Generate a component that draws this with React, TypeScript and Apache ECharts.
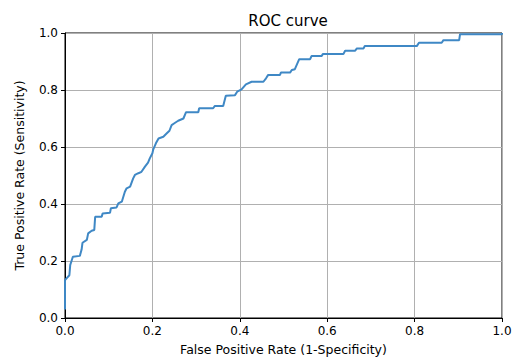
import React, { useEffect, useRef } from "react";
import * as echarts from "echarts";

const titleText = "ROC curve";
const xAxisName = "False Positive Rate (1-Specificity)";
const yAxisName = "True Positive Rate (Sensitivity)";

// False positive rate values (x)
const fpr: number[] = [
  0, 0, 0.004, 0.01, 0.012, 0.018, 0.034, 0.038, 0.04, 0.05, 0.053, 0.061, 0.067, 0.069,
  0.084, 0.086, 0.103, 0.105, 0.118, 0.122, 0.13, 0.137, 0.141, 0.149, 0.156, 0.16, 0.168,
  0.175, 0.183, 0.19, 0.194, 0.2, 0.202, 0.208, 0.214, 0.225, 0.233, 0.239, 0.244, 0.252,
  0.259, 0.271, 0.277, 0.305, 0.307, 0.339, 0.343, 0.362, 0.368, 0.389, 0.394, 0.404,
  0.414, 0.427, 0.454, 0.46, 0.465, 0.492, 0.494, 0.515, 0.519, 0.526, 0.532, 0.536,
  0.561, 0.564, 0.587, 0.59, 0.637, 0.641, 0.664, 0.668, 0.683, 0.686, 0.805, 0.81,
  0.862, 0.866, 0.902, 0.904, 1.0, 1.0,
];

// True positive rate values (y)
const tpr: number[] = [
  0.03, 0.133, 0.14, 0.15, 0.186, 0.215, 0.218, 0.24, 0.264, 0.274, 0.297, 0.306, 0.309, 0.355,
  0.355, 0.367, 0.369, 0.385, 0.388, 0.402, 0.408, 0.443, 0.455, 0.461, 0.49, 0.502, 0.508,
  0.513, 0.531, 0.545, 0.56, 0.578, 0.592, 0.613, 0.63, 0.636, 0.648, 0.657, 0.677, 0.685,
  0.692, 0.7, 0.722, 0.722, 0.736, 0.736, 0.744, 0.744, 0.78, 0.782, 0.794, 0.802,
  0.82, 0.829, 0.829, 0.841, 0.853, 0.853, 0.861, 0.861, 0.87, 0.873, 0.894, 0.908,
  0.908, 0.919, 0.919, 0.926, 0.926, 0.938, 0.938, 0.946, 0.946, 0.954, 0.954, 0.966,
  0.966, 0.975, 0.975, 0.996, 0.996, 1.0,
];

const tickValues: number[] = [0, 0.2, 0.4, 0.6, 0.8, 1.0];

const FONT = "DejaVu Sans";

export default function App() {
  const ref = useRef<HTMLDivElement>(null);

  useEffect(() => {
    if (!ref.current) return;
    const chart = echarts.init(ref.current, undefined, { renderer: "svg" });
    const data = fpr.map((x, i) => [x, tpr[i]]);
    const axisCommon = {
      type: "value" as const,
      min: tickValues[0],
      max: tickValues[tickValues.length - 1],
      interval: 0.2,
      nameLocation: "middle" as const,
      nameTextStyle: { fontFamily: FONT, fontSize: 12.5, color: "#000" },
      axisLine: { show: true, lineStyle: { color: "#000", width: 1 } },
      axisTick: { show: true, inside: false, length: 4, lineStyle: { color: "#000" } },
      axisLabel: {
        fontFamily: FONT,
        fontSize: 12,
        color: "#000",
        formatter: (v: number) => v.toFixed(1),
      },
      splitLine: { show: true, lineStyle: { color: "#b0b0b0", width: 1 } },
    };
    chart.setOption({
      animation: false,
      backgroundColor: "#fff",
      title: {
        text: titleText,
        left: 283,
        textAlign: "center",
        top: 8,
        textStyle: { fontFamily: FONT, fontSize: 15, fontWeight: "normal", color: "#000" },
      },
      grid: {
        left: 65,
        right: 14,
        top: 33,
        bottom: 40,
        containLabel: false,
        outerBoundsMode: "none",
        show: true,
        borderColor: "#000",
        borderWidth: 1,
        backgroundColor: "transparent",
      },
      xAxis: {
        ...axisCommon,
        name: xAxisName,
        nameGap: 25,
        axisLabel: { ...axisCommon.axisLabel, margin: 7 },
      },
      yAxis: {
        ...axisCommon,
        name: yAxisName,
        nameGap: 39,
        axisLabel: { ...axisCommon.axisLabel, margin: 7 },
      },
      series: [
        {
          type: "line",
          data,
          showSymbol: false,
          symbol: "none",
          lineStyle: { color: "#3f88c5", width: 2 },
          clip: true,
        },
      ],
    });
    return () => chart.dispose();
  }, []);

  return (
    <div
      ref={ref}
      style={{ position: "fixed", left: 0, top: 0, width: 516, height: 358, background: "#fff" }}
    />
  );
}
